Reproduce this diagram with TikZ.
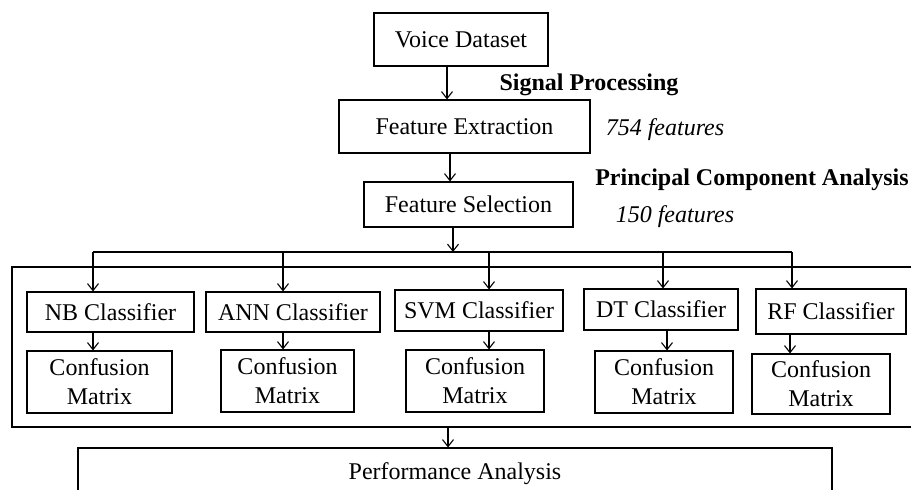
\documentclass[tikz,border=0pt]{standalone}
\usepackage{fontspec}
\setmainfont{Liberation Serif}
\usetikzlibrary{arrows.meta}
\begin{document}
\begin{tikzpicture}[x=1pt,y=-1pt,
  every node/.style={font=\fontsize{24}{29}\selectfont},
  box/.style={draw,line width=1.1pt,inner sep=0pt,align=center},
  lbl/.style={inner sep=0pt},
  arr/.style={line width=1.1pt,-{Straight Barb[length=7pt,width=11pt]}},
  ln/.style={line width=1.1pt}]
\useasboundingbox (0,0) rectangle (911,490);
\clip (0,0) rectangle (911,490);
\node[box,minimum width=174pt,minimum height=53pt] (vd) at (461,39.5) {Voice Dataset};
\node[box,minimum width=251pt,minimum height=53pt] (fe) at (464.5,126.5) {Feature Extraction};
\node[box,minimum width=209pt,minimum height=45pt] (fs) at (468.5,204.5) {Feature Selection};
\node[lbl,font=\fontsize{24}{29}\selectfont\bfseries] (sp) at (589,85) {Signal Processing};
\node[lbl,font=\fontsize{24}{29}\selectfont\itshape] (f754) at (665,130) {754 features};
\node[lbl,font=\fontsize{24}{29}\selectfont\bfseries] (pca) at (752,180) {Principal Component Analysis};
\node[lbl,font=\fontsize{24}{29}\selectfont\itshape] (f150) at (675,217) {150 features};
% container
\node[draw,line width=1.1pt,minimum width=918pt,minimum height=160pt,inner sep=0pt] (cont) at (471,347) {};
% classifiers
\node[box,minimum width=167pt,minimum height=40pt] (nb) at (110.5,312) {NB Classifier};
\node[box,minimum width=174pt,minimum height=40pt] (ann) at (293,312) {ANN Classifier};
\node[box,minimum width=168pt,minimum height=41pt] (svm) at (479,310.5) {SVM Classifier};
\node[box,minimum width=154pt,minimum height=41pt] (dt) at (661,309.5) {DT Classifier};
\node[box,minimum width=150pt,minimum height=45pt] (rf) at (831,311.5) {RF Classifier};
% confusion matrices
\node[box,minimum width=145pt,minimum height=62pt] (cnb) at (99.5,382) {Confusion\\Matrix};
\node[box,minimum width=133pt,minimum height=62pt] (cann) at (287.5,381) {Confusion\\Matrix};
\node[box,minimum width=138pt,minimum height=62pt] (csvm) at (475,381) {Confusion\\Matrix};
\node[box,minimum width=138pt,minimum height=62pt] (cdt) at (664,382) {Confusion\\Matrix};
\node[box,minimum width=138pt,minimum height=60pt] (crf) at (821,384) {Confusion\\Matrix};
% performance
\node[draw,line width=1.1pt,minimum width=754pt,minimum height=80pt,inner sep=0pt] (perf) at (455,488) {};
\node[lbl] (perft) at (455,474) {Performance Analysis};
% bus
\coordinate (bus) at (453,252);
\coordinate (busl) at (93,252);
\coordinate (busr) at (792,252);
% connectors
\draw[arr] (vd.south -| 447,0) -- (fe.north -| 447,0);
\draw[arr] (fe.south -| 450,0) -- (fs.north -| 450,0);
\draw[arr] (fs.south -| bus) -- (bus);
\draw[ln] (busl) -- (busr);
\draw[arr] (busl) -- (nb.north -| busl);
\draw[arr] (bus -| 283,0) -- (ann.north -| 283,0);
\draw[arr] (bus -| 489,0) -- (svm.north -| 489,0);
\draw[arr] (bus -| 663,0) -- (dt.north -| 663,0);
\draw[arr] (busr) -- (rf.north -| busr);
\draw[arr] (nb.south -| 93,0) -- (cnb.north -| 93,0);
\draw[arr] (ann.south -| 283,0) -- (cann.north -| 283,0);
\draw[arr] (svm.south -| 489,0) -- (csvm.north -| 489,0);
\draw[arr] (dt.south -| 667,0) -- (cdt.north -| 667,0);
\draw[arr] (rf.south -| 790,0) -- (crf.north -| 790,0);
\draw[arr] (cont.south -| 448,0) -- (perf.north -| 448,0);
\end{tikzpicture}
\end{document}
